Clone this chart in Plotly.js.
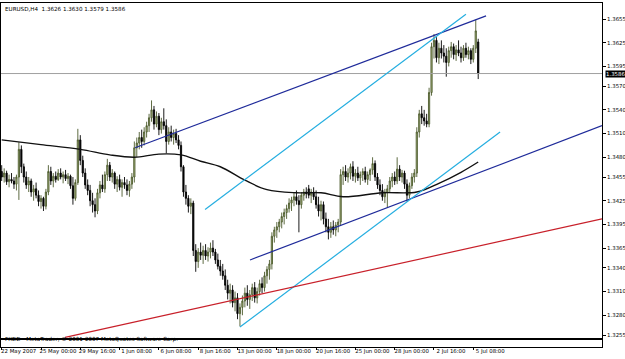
<!DOCTYPE html>
<html><head><meta charset="utf-8">
<script src="https://cdn.plot.ly/plotly-3.0.1.min.js"></script>
<style>html,body{margin:0;padding:0;background:#fff}#chart{width:625px;height:359px}</style>
</head><body><div id="chart"></div>
<script>
// ---- data (EURUSD H4, bar index 0 = 22 May 2007 08:00) ----
const openP = [1.3462,1.3455,1.3460,1.3449,1.3452,1.3450,1.3446,1.3455,1.3490,1.3468,1.3455,1.3445,1.3450,1.3436,1.3440,1.3432,1.3424,1.3428,1.3418,1.3436,
1.3462,1.3450,1.3456,1.3452,1.3460,1.3455,1.3458,1.3453,1.3456,1.3444,1.3428,1.3448,1.3502,1.3476,1.3460,1.3445,1.3438,1.3425,1.3420,1.3412,
1.3435,1.3445,1.3440,1.3458,1.3470,1.3455,1.3460,1.3446,1.3452,1.3442,1.3448,1.3445,1.3438,1.3446,1.3455,1.3492,1.3498,1.3505,1.3500,1.3512,
1.3520,1.3530,1.3540,1.3522,1.3532,1.3515,1.3525,1.3520,1.3500,1.3512,1.3505,1.3510,1.3502,1.3495,1.3468,1.3436,1.3428,1.3418,1.3422,1.3362,
1.3348,1.3360,1.3356,1.3362,1.3355,1.3360,1.3365,1.3360,1.3350,1.3342,1.3336,1.3330,1.3318,1.3308,1.3312,1.3296,1.3302,1.3282,1.3290,1.3298,
1.3308,1.3300,1.3306,1.3315,1.3302,1.3310,1.3320,1.3315,1.3330,1.3338,1.3345,1.3380,1.3388,1.3392,1.3398,1.3405,1.3410,1.3415,1.3422,1.3426,
1.3430,1.3425,1.3420,1.3432,1.3436,1.3440,1.3432,1.3436,1.3430,1.3420,1.3412,1.3420,1.3402,1.3392,1.3385,1.3392,1.3388,1.3394,1.3398,1.3458,
1.3462,1.3455,1.3460,1.3468,1.3456,1.3460,1.3454,1.3458,1.3462,1.3452,1.3458,1.3464,1.3472,1.3455,1.3445,1.3438,1.3430,1.3436,1.3440,1.3450,
1.3455,1.3450,1.3465,1.3455,1.3460,1.3446,1.3432,1.3444,1.3455,1.3460,1.3512,1.3535,1.3530,1.3526,1.3522,1.3562,1.3620,1.3628,1.3606,1.3618,
1.3612,1.3608,1.3600,1.3615,1.3620,1.3610,1.3616,1.3612,1.3606,1.3618,1.3610,1.3615,1.3604,1.3618,1.3626];
const highP = [1.3470,1.3466,1.3463,1.3458,1.3460,1.3455,1.3458,1.3499,1.3495,1.3472,1.3462,1.3455,1.3453,1.3445,1.3448,1.3438,1.3432,1.3430,1.3440,1.3470,
1.3468,1.3460,1.3462,1.3465,1.3466,1.3462,1.3464,1.3460,1.3458,1.3455,1.3452,1.3516,1.3508,1.3482,1.3466,1.3452,1.3445,1.3435,1.3428,1.3440,
1.3450,1.3458,1.3462,1.3478,1.3474,1.3465,1.3462,1.3456,1.3458,1.3452,1.3455,1.3452,1.3450,1.3460,1.3500,1.3505,1.3512,1.3515,1.3518,1.3525,
1.3535,1.3552,1.3545,1.3538,1.3536,1.3530,1.3542,1.3528,1.3518,1.3520,1.3515,1.3516,1.3508,1.3500,1.3470,1.3445,1.3432,1.3428,1.3425,1.3370,
1.3365,1.3372,1.3368,1.3370,1.3366,1.3372,1.3375,1.3364,1.3358,1.3350,1.3345,1.3338,1.3325,1.3320,1.3318,1.3310,1.3308,1.3295,1.3305,1.3315,
1.3318,1.3312,1.3320,1.3322,1.3315,1.3325,1.3328,1.3335,1.3342,1.3350,1.3385,1.3392,1.3398,1.3402,1.3410,1.3415,1.3420,1.3428,1.3430,1.3435,
1.3438,1.3432,1.3436,1.3440,1.3442,1.3445,1.3440,1.3442,1.3438,1.3430,1.3425,1.3424,1.3410,1.3402,1.3398,1.3400,1.3398,1.3402,1.3465,1.3468,
1.3470,1.3466,1.3472,1.3475,1.3465,1.3468,1.3462,1.3466,1.3468,1.3462,1.3466,1.3480,1.3476,1.3460,1.3452,1.3446,1.3440,1.3445,1.3455,1.3460,
1.3462,1.3480,1.3470,1.3464,1.3463,1.3452,1.3448,1.3460,1.3465,1.3518,1.3540,1.3545,1.3540,1.3535,1.3568,1.3625,1.3636,1.3632,1.3625,1.3628,
1.3622,1.3618,1.3620,1.3626,1.3624,1.3622,1.3628,1.3620,1.3622,1.3625,1.3620,1.3618,1.3622,1.3654,1.3630];
const lowP = [1.3450,1.3448,1.3445,1.3442,1.3447,1.3440,1.3438,1.3426,1.3460,1.3448,1.3440,1.3436,1.3430,1.3425,1.3428,1.3418,1.3415,1.3412,1.3414,1.3432,
1.3445,1.3442,1.3448,1.3450,1.3452,1.3447,1.3450,1.3446,1.3440,1.3420,1.3425,1.3445,1.3470,1.3455,1.3440,1.3432,1.3418,1.3410,1.3404,1.3408,
1.3428,1.3436,1.3435,1.3450,1.3450,1.3448,1.3440,1.3436,1.3438,1.3430,1.3440,1.3432,1.3430,1.3440,1.3448,1.3480,1.3490,1.3492,1.3495,1.3505,
1.3512,1.3525,1.3515,1.3518,1.3508,1.3510,1.3515,1.3485,1.3496,1.3500,1.3496,1.3498,1.3490,1.3462,1.3430,1.3420,1.3410,1.3408,1.3355,1.3335,
1.3340,1.3350,1.3345,1.3350,1.3348,1.3352,1.3355,1.3345,1.3338,1.3330,1.3325,1.3312,1.3300,1.3295,1.3290,1.3285,1.3275,1.3266,1.3280,1.3290,
1.3292,1.3288,1.3298,1.3296,1.3295,1.3305,1.3308,1.3310,1.3320,1.3325,1.3338,1.3372,1.3378,1.3385,1.3390,1.3395,1.3402,1.3410,1.3412,1.3418,
1.3420,1.3385,1.3415,1.3425,1.3428,1.3428,1.3422,1.3426,1.3415,1.3405,1.3400,1.3395,1.3385,1.3376,1.3378,1.3382,1.3380,1.3385,1.3394,1.3445,
1.3450,1.3448,1.3452,1.3450,1.3448,1.3450,1.3445,1.3450,1.3448,1.3445,1.3450,1.3458,1.3450,1.3440,1.3432,1.3425,1.3422,1.3416,1.3435,1.3442,
1.3445,1.3446,1.3450,1.3448,1.3440,1.3424,1.3428,1.3440,1.3448,1.3455,1.3505,1.3522,1.3520,1.3518,1.3518,1.3558,1.3605,1.3600,1.3598,1.3605,
1.3600,1.3582,1.3595,1.3606,1.3604,1.3602,1.3608,1.3600,1.3602,1.3606,1.3604,1.3598,1.3600,1.3612,1.3579];
const closeP = [1.3455,1.3460,1.3449,1.3452,1.3450,1.3446,1.3455,1.3490,1.3468,1.3455,1.3445,1.3450,1.3436,1.3440,1.3432,1.3424,1.3428,1.3418,1.3436,1.3462,
1.3450,1.3456,1.3452,1.3460,1.3455,1.3458,1.3453,1.3456,1.3444,1.3428,1.3448,1.3502,1.3476,1.3460,1.3445,1.3438,1.3425,1.3420,1.3412,1.3435,
1.3445,1.3440,1.3458,1.3470,1.3455,1.3460,1.3446,1.3452,1.3442,1.3448,1.3445,1.3438,1.3446,1.3455,1.3492,1.3498,1.3505,1.3500,1.3512,1.3520,
1.3530,1.3540,1.3522,1.3532,1.3515,1.3525,1.3520,1.3500,1.3512,1.3505,1.3510,1.3502,1.3495,1.3468,1.3436,1.3428,1.3418,1.3422,1.3362,1.3348,
1.3360,1.3356,1.3362,1.3355,1.3360,1.3365,1.3360,1.3350,1.3342,1.3336,1.3330,1.3318,1.3308,1.3312,1.3296,1.3302,1.3282,1.3290,1.3298,1.3308,
1.3300,1.3306,1.3315,1.3302,1.3310,1.3320,1.3315,1.3330,1.3338,1.3345,1.3380,1.3388,1.3392,1.3398,1.3405,1.3410,1.3415,1.3422,1.3426,1.3430,
1.3425,1.3420,1.3432,1.3436,1.3434,1.3432,1.3436,1.3430,1.3420,1.3412,1.3420,1.3402,1.3392,1.3385,1.3392,1.3388,1.3394,1.3398,1.3458,1.3462,
1.3455,1.3460,1.3468,1.3456,1.3460,1.3454,1.3458,1.3462,1.3452,1.3458,1.3464,1.3472,1.3455,1.3445,1.3438,1.3430,1.3436,1.3440,1.3450,1.3455,
1.3450,1.3465,1.3455,1.3460,1.3446,1.3432,1.3444,1.3455,1.3460,1.3512,1.3535,1.3530,1.3526,1.3522,1.3562,1.3620,1.3628,1.3606,1.3618,1.3612,
1.3608,1.3600,1.3615,1.3620,1.3610,1.3616,1.3612,1.3606,1.3618,1.3610,1.3615,1.3604,1.3618,1.3640,1.3586];

// moving average (read at selected bars)
const maIdx = [0,16,32,44,54,64,73,81,89,99,108,120,130,139,155,169,178,187,194];
const maVal = [1.3502,1.3496,1.3490,1.3483,1.3480,1.3484,1.3483,1.3475,1.3468,1.3451,1.3439,1.3435,1.3435,1.3430,1.3435,1.3436,1.3447,1.3461,1.3474];

// drawn trend lines: [bar index start, end], [price start, end]
const blue1X = [54.3, 197.2], blue1Y = [1.3492, 1.3659];
const cyan1X = [82.8, 189.0], cyan1Y = [1.3414, 1.3661];
const cyan2X = [97.0, 202.9], cyan2Y = [1.3265, 1.3512];
const blue2X = [101.1, 244.4], blue2Y = [1.3350, 1.3520];
const redX = [25.8, 244.4], redY = [1.3252, 1.3402];
const bidPrice = 1.3586;

const xTickVals = [0,16,32,48,64,80,96,112,128,144,160,176,192];
const xTickText = ["22 May 2007","25 May 00:00","29 May 16:00","1 Jun 08:00","6 Jun 08:00","8 Jun 16:00","13 Jun 00:00","18 Jun 00:00","20 Jun 16:00","25 Jun 00:00","28 Jun 00:00","2 Jul 16:00","5 Jul 08:00"];
const yTickVals = [1.3655,1.3625,1.3595,1.3570,1.3540,1.3510,1.3480,1.3455,1.3425,1.3395,1.3365,1.3340,1.3310,1.3280,1.3255];
const header = "EURUSD,H4  1.3626 1.3630 1.3579 1.3586";
const footer = "FXDD - MetaTrader, © 2001-2007 MetaQuotes Software Corp.";

const idx = openP.map((_, i) => i);
const XR = [-0.285, 244.4];
const font = {family: "DejaVu Sans, Arial, sans-serif", size: 5.4, color: "#000"};

const line = (x, y, color, w) => ({type: "scatter", mode: "lines", x, y, xaxis: "x", yaxis: "y",
  line: {color, width: w}, hoverinfo: "skip", showlegend: false});

const traces = [
  line(XR, [bidPrice, bidPrice], "#a0a0a0", 1),
  {type: "candlestick", x: idx, open: openP, high: highP, low: lowP, close: closeP,
   xaxis: "x", yaxis: "y", showlegend: false, hoverinfo: "skip", whiskerwidth: 0,
   increasing: {line: {color: "#4c5a2c", width: 0.9}, fillcolor: "#b4c088"},
   decreasing: {line: {color: "#000000", width: 0.9}, fillcolor: "#000000"}},
  {type: "scatter", mode: "lines", x: maIdx, y: maVal, line: {color: "#111", width: 1.4, shape: "spline", smoothing: 1},
   hoverinfo: "skip", showlegend: false},
  line(blue1X, blue1Y, "#1f2b9a", 1.2),
  line(blue2X, blue2Y, "#1f2b9a", 1.2),
  line(cyan1X, cyan1Y, "#25aee0", 1.2),
  line(cyan2X, cyan2Y, "#25aee0", 1.2),
  line(redX, redY, "#c8202a", 1.2),
  {type: "scatter", mode: "lines", x: XR, y: [0.5, 0.5], xaxis: "x2", yaxis: "y2",
   line: {color: "rgba(0,0,0,0)", width: 0}, hoverinfo: "skip", showlegend: false}
];

const layout = {
  width: 625, height: 359,
  margin: {l: 1, r: 23, t: 3, b: 12, pad: 0},
  paper_bgcolor: "#fff", plot_bgcolor: "#fff",
  showlegend: false, font,
  xaxis: {domain: [0, 1], range: XR, showticklabels: false, ticks: "", showgrid: false, zeroline: false,
    showline: true, mirror: true, linecolor: "#000", linewidth: 1, rangeslider: {visible: false}, fixedrange: true},
  yaxis: {domain: [0.02616, 1], range: [1.32512, 1.36753], side: "right", tickvals: yTickVals,
    ticktext: yTickVals.map(v => v.toFixed(4)), ticks: "outside", ticklen: 3, tickcolor: "#000",
    showgrid: false, zeroline: false, showline: true, mirror: true, linecolor: "#000", linewidth: 1,
    tickfont: font, fixedrange: true},
  xaxis2: {domain: [0, 1], anchor: "y2", range: XR, tickvals: xTickVals, ticktext: xTickText,
    ticks: "outside", ticklen: 2, tickcolor: "#000", tickangle: 0, ticklabelshift: 17, ticklabelstandoff: -3,
    showgrid: false, zeroline: false, showline: true, mirror: true, linecolor: "#000", linewidth: 1,
    tickfont: font, fixedrange: true, automargin: false},
  yaxis2: {domain: [0, 0.0203], anchor: "x2", range: [0, 1], showticklabels: false, ticks: "",
    showgrid: false, zeroline: false, showline: true, mirror: true, linecolor: "#000", linewidth: 1, fixedrange: true},
  annotations: [
    {text: header, xref: "paper", yref: "paper", x: 0.004, y: 0.997, xanchor: "left", yanchor: "top",
     showarrow: false, font: {family: font.family, size: 5.6, color: "#000"}},
    {text: footer, xref: "paper", yref: "paper", x: 0.004, y: 0.023, xanchor: "left", yanchor: "middle",
     showarrow: false, font: {family: font.family, size: 5.6, color: "#000"}},
    {text: bidPrice.toFixed(4), xref: "paper", yref: "y", x: 1.0, y: bidPrice, xanchor: "left", yanchor: "middle",
     xshift: 3, showarrow: false, bgcolor: "#000", borderpad: 0,
     font: {family: font.family, size: 5.4, color: "#fff"}}
  ]
};

Plotly.newPlot("chart", traces, layout, {staticPlot: true, displayModeBar: false});
</script></body></html>
